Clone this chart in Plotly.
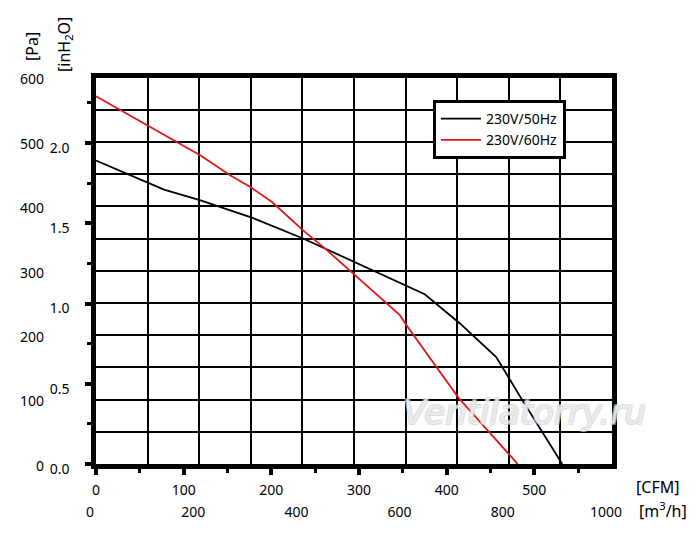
import plotly.graph_objects as go

# ---- data ----
cfm_50 = [0, 58.8, 77.6, 119.3, 176.1, 234.9, 290.9, 314.4, 354.2, 375.0, 414.8, 456.5, 484.9, 531.8]
pa_50 = [471, 437.7, 425.9, 409.3, 383.4, 350.9, 316.3, 300.8, 276.0, 263.6, 218.6, 165.9, 102.3, 0]

cfm_60 = [0, 92.8, 119.3, 153.4, 176.1, 200.8, 234.9, 261.4, 293.5, 346.6, 354.2, 414.0, 481.0]
pa_60 = [571, 499.7, 479, 448, 430, 406.7, 364.3, 334.4, 295.7, 231.0, 215.5, 101.9, 0]

series_names = ["230V/50Hz", "230V/60Hz"]
series_colors = ["#000000", "#e0161b"]

CFM_TO_M3H = 1.699
PA_PER_INH2O = 249.0889
M3H_MAX = 1000
PA_MAX = 600

cfm_ticks = [0, 100, 200, 300, 400, 500]
m3h_ticks = [0, 200, 400, 600, 800, 1000]
pa_ticks = [0, 100, 200, 300, 400, 500, 600]
inh2o_ticks = [0.0, 0.5, 1.0, 1.5, 2.0]

W, H = 700, 535
xdom = [96 / W, 612 / W]
ydom = [1 - 464 / H, 1 - 77.5 / H]

FONT = "Noto Sans"

fig = go.Figure()
# real curves on the m3/h (x) / Pa (y) subplot
for xs, ys, name, col in [(cfm_50, pa_50, series_names[0], series_colors[0]),
                          (cfm_60, pa_60, series_names[1], series_colors[1])]:
    fig.add_trace(go.Scatter(
        x=[v * CFM_TO_M3H for v in xs], y=ys, mode="lines", name=name,
        line=dict(color=col, width=1.8), xaxis="x", yaxis="y"))
# empty trace so that the CFM / inH2O overlay subplot is created
fig.add_trace(go.Scatter(x=[], y=[], xaxis="x2", yaxis="y2", showlegend=False,
                         hoverinfo="skip", mode="lines"))

fig.update_layout(
    template="none",
    width=W, height=H,
    margin=dict(l=0, r=0, t=0, b=0, pad=0, autoexpand=False),
    paper_bgcolor="white", plot_bgcolor="white",
    font=dict(family=FONT, size=14, color="black"),
    showlegend=True,
    legend=dict(x=433 / W, y=1 - 100 / H, xanchor="left", yanchor="top",
                bgcolor="white", bordercolor="black", borderwidth=3,
                font=dict(family=FONT, size=14, color="black"),
                itemwidth=40, tracegroupgap=0, entrywidth=152, entrywidthmode="pixels"),
    # m3/h axis (grid + lower labels)
    xaxis=dict(domain=xdom, range=[0, M3H_MAX], anchor="free", position=(H - 502) / H,
               tickmode="array", tickvals=m3h_ticks, ticks="", showline=False,
               showgrid=True, gridcolor="black", gridwidth=2, zeroline=False,
               minor=dict(dtick=100, tick0=0, showgrid=True, gridcolor="black", gridwidth=1.6),
               ticklabelshift=-6, tickfont=dict(size=14), automargin=False),
    # Pa axis (grid + outer labels)
    yaxis=dict(domain=ydom, range=[0, PA_MAX], anchor="free", position=44 / W,
               tickmode="array", tickvals=pa_ticks, ticks="", showline=False,
               showgrid=True, gridcolor="black", gridwidth=2, zeroline=False,
               minor=dict(dtick=50, tick0=0, showgrid=True, gridcolor="black", gridwidth=1.6),
               ticklabelshift=2, tickfont=dict(size=14), automargin=False),
    # CFM axis on the plot border
    xaxis2=dict(overlaying="x", anchor="y2", side="bottom",
                range=[0, M3H_MAX / CFM_TO_M3H], tickmode="array", tickvals=cfm_ticks,
                ticks="outside", ticklen=6, tickwidth=4, tickcolor="black",
                minor=dict(dtick=50, tick0=0, ticks="outside", ticklen=4, tickwidth=3,
                           tickcolor="black", showgrid=False),
                showline=True, linecolor="black", linewidth=4.5, mirror=True,
                showgrid=False, zeroline=False, tickfont=dict(size=14),
                ticklabelstandoff=3, automargin=False),
    # inH2O axis on the plot border
    yaxis2=dict(overlaying="y", anchor="x2", side="left",
                range=[0, PA_MAX / PA_PER_INH2O], tickmode="array", tickvals=inh2o_ticks,
                tickformat=".1f",
                ticks="outside", ticklen=6, tickwidth=4, tickcolor="black",
                minor=dict(dtick=0.25, tick0=0, ticks="outside", ticklen=4, tickwidth=3,
                           tickcolor="black", showgrid=False),
                showline=True, linecolor="black", linewidth=4.5, mirror=True,
                showgrid=False, zeroline=False, tickfont=dict(size=14),
                ticklabelshift=5, ticklabelstandoff=13, automargin=False),
)

ann = [
    dict(text="[Pa]", x=32 / W, y=1 - 47 / H, textangle=-90, font=dict(size=16)),
    dict(text="[inH<sub>2</sub>O]", x=64 / W, y=1 - 45 / H, textangle=-90, font=dict(size=16)),
    dict(text="[CFM]", x=657 / W, y=1 - 487 / H, font=dict(size=16)),
    dict(text="[m<sup>3</sup>/h]", x=663 / W, y=1 - 510 / H, font=dict(size=16)),
    dict(text="Ventilatorry.ru", x=524 / W, y=1 - 412 / H,
         font=dict(family="DejaVu Sans", size=34, style="italic",
                   color="rgba(255,255,255,0.5)",
                   shadow="-1px -1px 0 #d0d0d0, 1px -1px 0 #d0d0d0, -1px 1px 0 #d0d0d0, 1px 1px 0 #d0d0d0")),
]
for a in ann:
    fig.add_annotation(xref="paper", yref="paper", showarrow=False,
                       xanchor="center", yanchor="middle", **a)

fig.write_html("out.html", config={"displayModeBar": False},
               post_script="document.body.style.margin='0';document.body.style.overflow='hidden';")
